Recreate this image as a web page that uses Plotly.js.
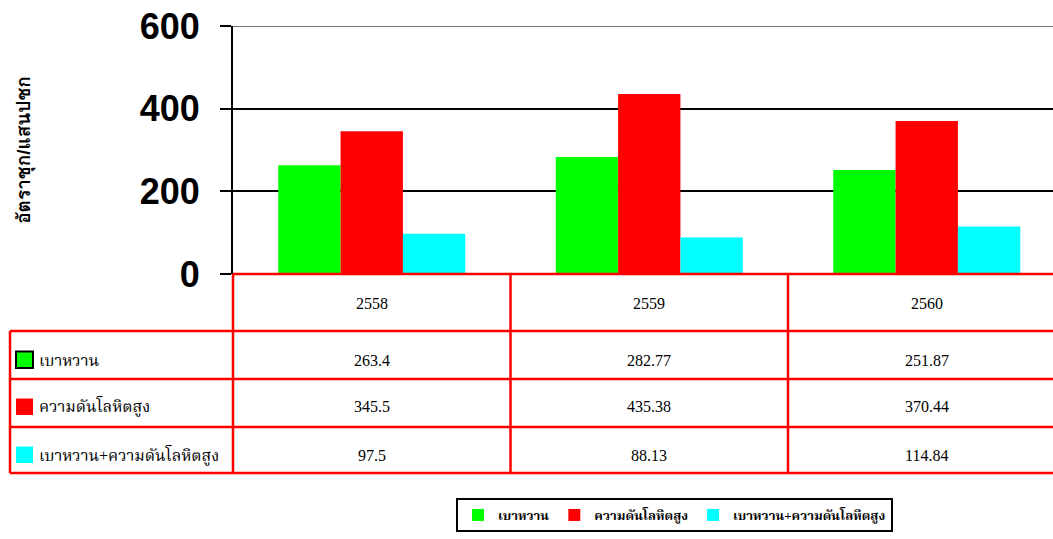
<!DOCTYPE html>
<html>
<head>
<meta charset="utf-8">
<script src="https://cdn.plot.ly/plotly-3.0.1.min.js"></script>
<style>
html,body{margin:0;padding:0;overflow:hidden;background:#fff;}
#chart{width:1053px;height:550px;}
</style>
</head>
<body>
<div id="chart"></div>
<script>
// ---- data ----
var years = ['2558', '2559', '2560'];
var seriesNames = ['เบาหวาน', 'ความดันโลหิตสูง', 'เบาหวาน+ความดันโลหิตสูง'];
var diabetes = [263.4, 282.77, 251.87];
var hypertension = [345.5, 435.38, 370.44];
var both = [97.5, 88.13, 114.84];
var yTicks = [0, 200, 400, 600];
var yTitle = 'อัตราชุก/แสนปชก';

var seriesValues = [diabetes, hypertension, both];
var seriesColors = ['#00FF00', '#FF0000', '#00FFFF'];

// ---- layout geometry (pixels) ----
var W = 1053, H = 550;
var L = 233, T = 26, B = 274;      // plot area left, top, bottom
var plotW = W - L;
var plotH = B - T;
var catW = 277.5;                   // px per category
var xMin = -0.5, xMax = -0.5 + plotW / catW;

function py(p) { return (B - p) / plotH; }        // pixel y -> paper y
function px(p) { return (p - L) / plotW; }        // pixel x -> paper x
function cx(c) { return (c - xMin) / (xMax - xMin); } // data x -> paper x

var serif = 'Liberation Serif, Norasi, "Noto Serif Thai", "TH Sarabun New", Garuda, serif';
var sans = 'Liberation Sans, Tahoma, Loma, "Noto Sans Thai", Arial, sans-serif';

var traces = seriesNames.map(function (name, i) {
  return {
    type: 'bar',
    name: name,
    x: years,
    y: seriesValues[i],
    marker: {color: seriesColors[i], line: {width: 0}},
    hoverinfo: 'x+y+name'
  };
});

// table geometry
var rowLines = [274, 331, 379, 427, 473];
var rowTextY = [303, 360, 407, 455];
var tableLeft = 10;
var red = '#FF0000';
var shapes = [];

// horizontal lines
shapes.push({type: 'line', xref: 'paper', yref: 'paper', x0: 0, x1: 1, y0: py(rowLines[0]), y1: py(rowLines[0]), line: {color: red, width: 2.5}, layer: 'above'});
for (var r = 1; r < rowLines.length; r++) {
  shapes.push({type: 'line', xref: 'paper', yref: 'paper', x0: px(tableLeft), x1: 1, y0: py(rowLines[r]), y1: py(rowLines[r]), line: {color: red, width: 2.5}});
}
// vertical lines
shapes.push({type: 'line', xref: 'paper', yref: 'paper', x0: px(tableLeft), x1: px(tableLeft), y0: py(rowLines[1]), y1: py(rowLines[4]), line: {color: red, width: 2.5}});
for (var c = 0; c <= years.length; c++) {
  shapes.push({type: 'line', xref: 'paper', yref: 'paper', x0: cx(c - 0.5), x1: cx(c - 0.5), y0: py(rowLines[0]), y1: py(rowLines[4]), line: {color: red, width: 2.5}});
}
// top border of plot (gray)
shapes.push({type: 'line', xref: 'paper', yref: 'y', x0: 0, x1: 1, y0: 600, y1: 600, line: {color: '#777777', width: 2}, layer: 'above'});

var annotations = [];
// header years
years.forEach(function (yr, i) {
  annotations.push({xref: 'x', yref: 'paper', x: i, y: py(rowTextY[0]), text: yr, showarrow: false,
    xanchor: 'center', yanchor: 'middle', font: {family: serif, size: 16, color: '#000'}});
});
// rows
seriesNames.forEach(function (name, s) {
  var ty = rowTextY[s + 1];
  // swatch
  shapes.push({type: 'rect', xref: 'paper', yref: 'paper', x0: px(16), x1: px(33), y0: py(ty - 8.5), y1: py(ty + 8),
    fillcolor: seriesColors[s], line: {color: s === 0 ? '#000' : seriesColors[s], width: s === 0 ? 2 : 0}});
  annotations.push({xref: 'paper', yref: 'paper', x: px(37), y: py(ty), text: name, showarrow: false,
    xanchor: 'left', yanchor: 'middle', font: {family: serif, size: 16, color: '#000'}});
  seriesValues[s].forEach(function (v, i) {
    annotations.push({xref: 'x', yref: 'paper', x: i, y: py(ty), text: String(v), showarrow: false,
      xanchor: 'center', yanchor: 'middle', font: {family: serif, size: 16, color: '#000'}});
  });
});

var layout = {
  width: W, height: H,
  margin: {l: L, r: 0, t: T, b: H - B, pad: 0},
  paper_bgcolor: '#fff', plot_bgcolor: '#fff',
  barmode: 'group', bargap: 0.326, bargroupgap: 0,
  showlegend: true,
  legend: {
    orientation: 'h', x: px(456), y: py(498), xanchor: 'left', yanchor: 'top',
    bordercolor: '#000', borderwidth: 2, bgcolor: '#fff',
    font: {family: serif, size: 13, color: '#000', weight: 'bold'},
    itemwidth: 30, itemclick: false, itemdoubleclick: false
  },
  xaxis: {
    type: 'category', range: [xMin, xMax], showticklabels: false, ticks: '',
    showgrid: false, zeroline: false, showline: false, fixedrange: true
  },
  yaxis: {
    range: [0, 600], tickvals: yTicks, ticktext: yTicks.map(String),
    ticks: 'outside', ticklen: 11, tickwidth: 2, tickcolor: '#000',
    showline: true, linecolor: '#000', linewidth: 2,
    showgrid: true, gridcolor: '#000', gridwidth: 2, zeroline: false,
    tickfont: {family: sans, size: 36, color: '#000', weight: 'bold'},
    ticklabelstandoff: 13,
    title: {text: yTitle, standoff: 104, font: {family: sans, size: 19, color: '#000', weight: 'bold'}},
    fixedrange: true
  },
  shapes: shapes,
  annotations: annotations
};

Plotly.newPlot('chart', traces, layout, {displayModeBar: false, staticPlot: true});
</script>
</body>
</html>
